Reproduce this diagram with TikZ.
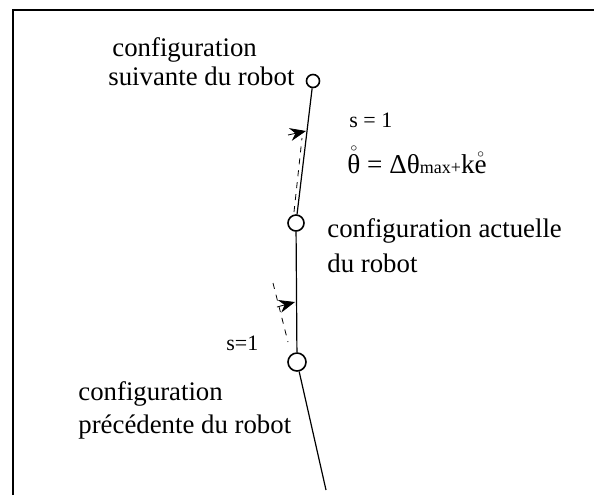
\documentclass[tikz,border=0pt]{standalone}
\usepackage{amsmath}
\usepackage{fontspec}
\setmainfont{Liberation Serif}
\usetikzlibrary{positioning,arrows.meta}

\tikzset{
  conf/.style={circle,draw,thick,inner sep=0pt},
  lbl/.style={anchor=base west,inner sep=0pt,font=\fontsize{13.4}{16}\selectfont},
  small/.style={anchor=base west,inner sep=0pt,font=\fontsize{11}{13}\selectfont},
  turn/.style={-{Stealth[length=8pt,width=6.5pt]},thin}
}

\begin{document}
\begin{tikzpicture}[x=0.5pt,y=-0.5pt]
\useasboundingbox (0,0) rectangle (594,495);
% frame (only top and left edges show)
\draw[line width=1.2pt] (13,495) -- (13,10) -- (594,10);
% configurations of the robot
\node[conf,minimum size=6.5pt] (next) at (313,81) {};
\node[conf,minimum size=8pt] (cur) at (296,223) {};
\node[conf,minimum size=9pt] (prev) at (297,362) {};
\coordinate (tail) at (326,490);
\draw[semithick] (next) -- (cur);
\draw[semithick] (cur) -- (prev);
\draw[semithick] (prev) -- (tail);
% extensions of the previous direction
\coordinate (d1a) at (294,212);
\coordinate (d1b) at (302,138);
\draw[dashed] (d1a) -- (d1b);
\coordinate (a1a) at (288,135);
\coordinate (a1b) at (306,131);
\draw[turn] (a1a) -- (a1b);
\coordinate (d2a) at (273,283);
\coordinate (d2b) at (288,342);
\draw[dashed] (d2a) -- (d2b);
\coordinate (a2a) at (277,307);
\coordinate (a2b) at (295,302);
\draw[turn] (a2a) -- (a2b);
% labels
\node[lbl] (nx1) at (112,56) {configuration};
\node[lbl] (nx2) at (108,85) {suivante du robot};
\node[lbl] (cu1) at (327,237) {configuration actuelle};
\node[lbl] (cu2) at (327,272) {du robot};
\node[lbl] (pr1) at (78,400) {configuration};
\node[lbl] (pr2) at (78,433) {précédente du robot};
\node[small] (s1) at (349,127) {s = 1};
\node[small] (s2) at (226,350) {s=1};
\node[anchor=base west,inner sep=0pt,font=\fontsize{13.6}{15}\selectfont] (law) at (347,173)
  {$\mathring{\text{θ}}$ = Δθ{\fontsize{9}{10}\selectfont max+}k$\mathring{\text{e}}$};
\end{tikzpicture}
\end{document}
